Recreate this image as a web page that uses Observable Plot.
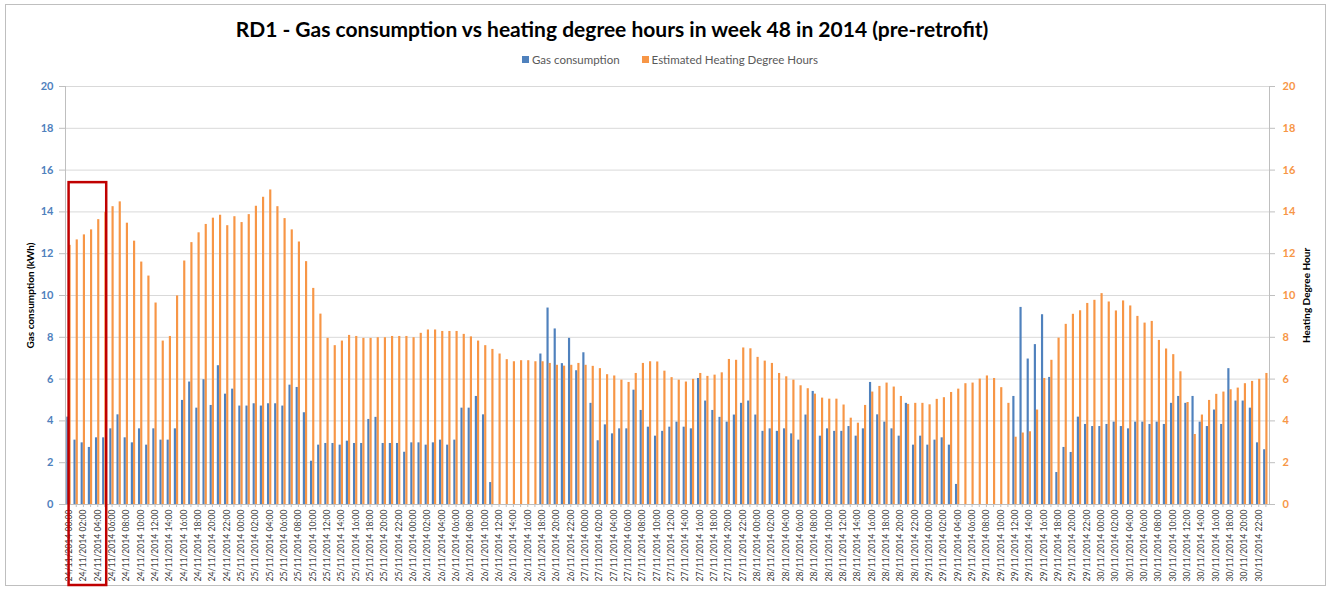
<!DOCTYPE html>
<html>
<head>
<meta charset="utf-8">
<script src="https://cdn.jsdelivr.net/npm/d3@7"></script>
<script src="https://cdn.jsdelivr.net/npm/@observablehq/plot@0.6"></script>
<style>
  html, body { margin: 0; padding: 0; background: #fff; }
  body { width: 1334px; height: 592px; position: relative; overflow: hidden; font-family: Lato, "Open Sans", sans-serif; }
  #border { position: absolute; left: 5px; top: 4px; width: 1321px; height: 582px; border: 1px solid #bfbfbf; box-sizing: border-box; }
  #title { position: absolute; left: 0; width: 1224px; top: 16px; text-align: center; font-weight: bold; font-size: 21px; color: #000; }
  #legend { position: absolute; left: 0; width: 1340px; top: 53px; display: flex; justify-content: center; gap: 22px; font-size: 11.5px; color: #595959; }
  #legend .item { display: flex; align-items: center; gap: 3px; }
  #legend .sw { width: 7px; height: 7px; display: inline-block; }
  #chart { position: absolute; left: 0; top: 70px; }
</style>
</head>
<body>
<div id="border"></div>
<div id="title"></div>
<div id="legend"></div>
<div id="chart"></div>
<script>
// ---- data ----
const titleText = "RD1 - Gas consumption vs heating degree hours in week 48 in 2014 (pre-retrofit)";
const seriesNames = ["Gas consumption", "Estimated Heating Degree Hours"];
const seriesColors = ["#4f81bd", "#f79646"];
const leftAxisTitle = "Gas consumption (kWh)";
const rightAxisTitle = "Heating Degree Hour";
const yTicks = [0, 2, 4, 6, 8, 10, 12, 14, 16, 18, 20];
const days = ["24/11/2014", "25/11/2014", "26/11/2014", "27/11/2014", "28/11/2014", "29/11/2014", "30/11/2014"];
const hoursOfDay = ["00:00","01:00","02:00","03:00","04:00","05:00","06:00","07:00","08:00","09:00","10:00","11:00",
                    "12:00","13:00","14:00","15:00","16:00","17:00","18:00","19:00","20:00","21:00","22:00","23:00"];
const categories = days.flatMap(d => hoursOfDay.map(h => d + " " + h));

const gas = [
  4.18,3.08,2.95,2.73,3.19,3.19,3.62,4.29,3.19,2.95,3.62,2.84,3.62,3.08,3.08,3.62,4.98,5.86,4.61,5.97,4.74,6.64,5.28,5.52,
  4.71,4.71,4.82,4.71,4.82,4.82,4.71,5.71,5.60,4.39,2.07,2.84,2.92,2.92,2.84,3.03,2.92,2.92,4.07,4.17,2.92,2.92,2.92,2.50,
  2.95,2.95,2.84,2.95,3.08,2.84,3.08,4.61,4.61,5.17,4.29,1.05,0,0,0,0,0,0,7.20,9.40,8.40,6.74,7.95,6.40,
  7.26,4.84,3.05,3.81,3.38,3.62,3.62,5.47,4.50,3.70,3.27,3.50,3.70,3.94,3.70,3.62,6.03,4.95,4.50,4.17,3.94,4.28,4.84,4.95,
  4.28,3.50,3.62,3.50,3.62,3.38,3.08,4.28,5.41,3.27,3.62,3.50,3.50,3.73,3.27,3.62,5.84,4.29,3.94,3.62,3.27,4.84,2.84,3.27,
  2.84,3.08,3.19,2.84,0.96,0,0,0,0,0,0,0,5.17,9.43,6.96,7.65,9.08,6.08,1.53,2.73,2.49,4.18,3.83,3.73,
  3.73,3.83,3.94,3.73,3.62,3.94,3.94,3.83,3.94,3.83,4.84,5.17,4.84,5.17,3.94,3.73,4.52,3.83,6.50,4.95,4.95,4.61,2.95,2.62
];
const hdh = [
  12.40,12.66,12.90,13.14,13.63,13.98,14.25,14.48,13.46,12.60,11.60,10.93,9.64,7.82,8.04,9.98,11.65,12.53,13.00,13.40,13.70,13.84,13.34,13.77,
  13.49,13.87,14.27,14.70,15.05,14.25,13.68,13.14,12.56,11.62,10.34,9.11,7.95,7.60,7.82,8.09,8.04,7.95,7.95,7.98,7.98,8.04,8.04,8.04,
  7.98,8.19,8.35,8.35,8.28,8.28,8.28,8.14,8.02,7.82,7.60,7.42,7.20,6.93,6.83,6.88,6.88,6.83,6.83,6.75,6.66,6.62,6.66,6.75,
  6.66,6.61,6.50,6.21,6.15,5.95,5.84,6.27,6.75,6.83,6.82,6.38,6.07,5.95,5.86,5.99,6.27,6.13,6.19,6.30,6.94,6.90,7.49,7.45,
  7.04,6.86,6.75,6.27,6.11,5.95,5.68,5.54,5.28,5.09,5.04,5.04,4.76,4.13,3.89,4.74,5.38,5.65,5.81,5.62,5.17,4.79,4.84,4.84,
  4.77,5.03,5.11,5.36,5.52,5.78,5.81,6.00,6.15,6.03,5.59,4.84,3.22,3.42,3.48,4.52,6.03,6.90,7.96,8.62,9.10,9.27,9.62,9.77,
  10.09,9.69,9.26,9.74,9.50,9.00,8.68,8.76,7.85,7.44,7.17,6.35,4.88,3.35,4.28,4.98,5.27,5.38,5.49,5.57,5.78,5.89,5.99,6.27
];
const highlightHours = ["24/11/2014 00:00", "24/11/2014 05:00"];
const highlightTop = 15.4;

// ---- title & legend ----
document.getElementById("title").textContent = titleText;
const legend = d3.select("#legend");
seriesNames.forEach((name, i) => {
  const it = legend.append("div").attr("class", "item");
  it.append("span").attr("class", "sw").style("background", seriesColors[i]);
  it.append("span").text(name);
});

// ---- chart ----
const font = "Lato, 'Open Sans', sans-serif";
const gasRows = categories.map((c, i) => ({hour: c, value: gas[i]}));
const hdhRows = categories.map((c, i) => ({hour: c, value: hdh[i]}));

const chart = Plot.plot({
  width: 1334,
  height: 520,
  marginTop: 16,
  marginBottom: 86,
  marginLeft: 65,
  marginRight: 65,
  style: {fontFamily: font, background: "transparent", overflow: "visible"},
  x: {type: "band", domain: categories, padding: 0, round: false, axis: null},
  y: {domain: [0, 20], axis: null},
  marks: [
    Plot.gridY(yTicks, {stroke: "#d9d9d9", strokeOpacity: 1}),
    Plot.barY(gasRows, {x: "hour", y: "value", fill: seriesColors[0], insetLeft: 1.3, insetRight: 3.7}),
    Plot.barY(hdhRows, {x: "hour", y: "value", fill: seriesColors[1], insetLeft: 3.5, insetRight: 1.5}),
    Plot.ruleY([0], {stroke: "#bfbfbf"}),
    Plot.frame({anchor: "left", stroke: "#bfbfbf"}),
    Plot.frame({anchor: "right", stroke: "#bfbfbf"}),
    Plot.axisY({anchor: "left", ticks: yTicks, tickSize: 6, tickPadding: 6, stroke: "#bfbfbf", fill: seriesColors[0],
                fontWeight: "bold", fontSize: 11, label: null}),
    Plot.axisY({anchor: "right", ticks: yTicks, tickSize: 5, tickPadding: 8, stroke: "#bfbfbf", fill: seriesColors[1],
                fontWeight: "bold", fontSize: 11, label: null}),
    Plot.axisX({ticks: categories, tickSize: 3, stroke: "#bfbfbf", tickFormat: () => "", label: null}),
    Plot.axisX({ticks: categories.filter((c, i) => i % 2 === 0), tickSize: 0, tickPadding: 5, tickRotate: -90,
                fill: "#404040", fontSize: 8.6, label: null}),
    Plot.text([leftAxisTitle], {frameAnchor: "left", dx: -35, rotate: -90, textAnchor: "middle", fontWeight: "bold", fontSize: 10, fill: "#000"}),
    Plot.text([rightAxisTitle], {frameAnchor: "right", dx: 37, rotate: -90, textAnchor: "middle", fontWeight: "bold", fontSize: 10, fill: "#000"})
  ]
});
document.getElementById("chart").appendChild(chart);

// ---- highlight box drawn from the plot's own scales ----
const xs = chart.scale("x"), ys = chart.scale("y");
const bw = xs.bandwidth;
const x0 = xs.apply(highlightHours[0]) + bw * 0.5;
const x1 = xs.apply(highlightHours[1]) + bw * 0.75;
const yTop = ys.apply(highlightTop);
d3.select(chart).append("rect")
  .attr("x", x0).attr("y", yTop)
  .attr("width", x1 - x0).attr("height", 515 - yTop)
  .attr("fill", "none").attr("stroke", "#c00000").attr("stroke-width", 2.5);
</script>
</body>
</html>
